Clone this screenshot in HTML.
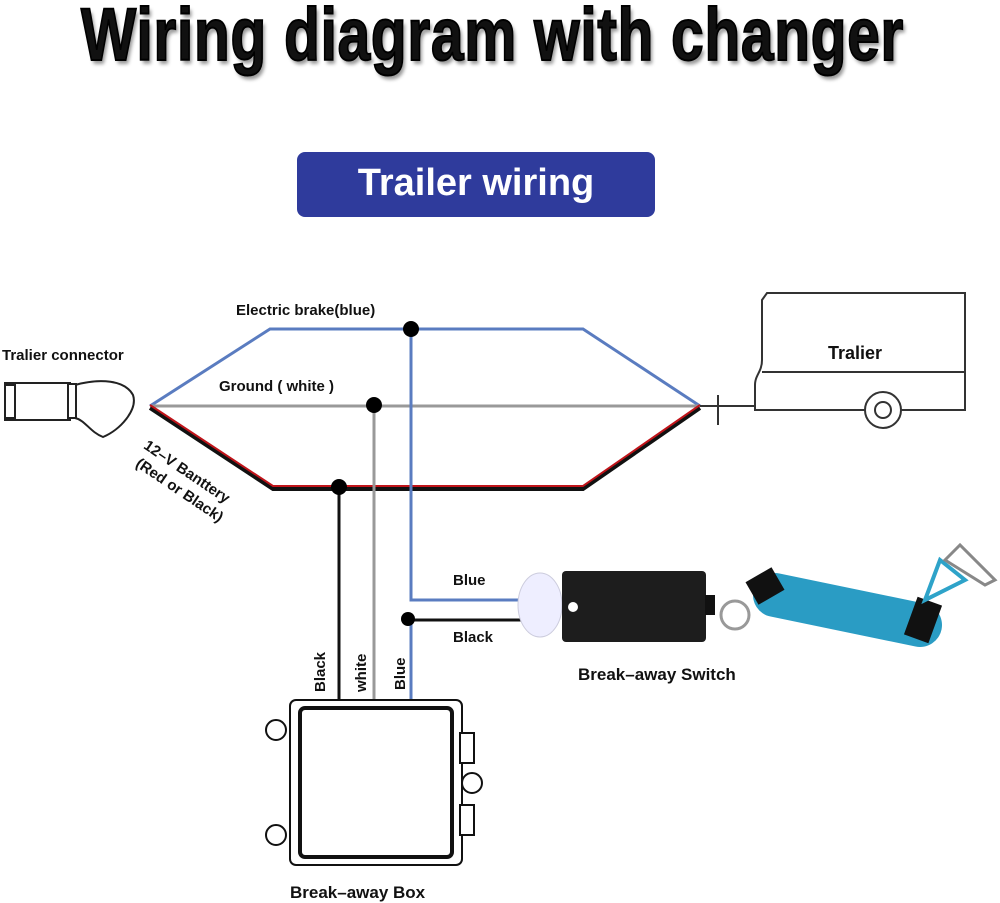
<!DOCTYPE html>
<html><head><meta charset="utf-8"><style>
body{margin:0;background:#fff;width:1000px;height:903px;overflow:hidden;position:relative;font-family:"Liberation Sans",sans-serif}
.t{position:absolute;font-weight:bold;color:#111;white-space:nowrap}
</style></head><body>
<div class="t" style="left:-24px;width:1000px;top:-8px;text-align:center;font-size:74px;transform:scaleX(0.79);letter-spacing:1px;text-shadow:3px 4px 4px #999;-webkit-text-stroke:2px #000">Wiring diagram with changer</div>
<div style="position:absolute;left:297px;top:152px;width:358px;height:65px;background:#2f3b9c;border-radius:8px"></div>
<div class="t" style="left:297px;width:358px;top:162px;text-align:center;color:#fff;font-size:38px">Trailer wiring</div>
<svg width="1000" height="903" style="position:absolute;left:0;top:0">
<g fill="none" stroke-width="3">
<polyline points="150,406 270,329 583,329 700,406" stroke="#5a7cc0"/>
<line x1="150" y1="406" x2="700" y2="406" stroke="#999"/>
<polyline points="150,408 273,489 583,489 700,408" stroke="#111" stroke-width="4"/>
<polyline points="150,405 273,486 583,486 700,405" stroke="#c0141a" stroke-width="2"/>
<polyline points="411,329 411,600 530,600" stroke="#5a7cc0"/>
<line x1="374" y1="405" x2="374" y2="703" stroke="#999"/>
<line x1="339" y1="487" x2="339" y2="703" stroke="#111"/>
<polyline points="530,620 408,620 408,617" stroke="#111"/>
<line x1="411" y1="620" x2="411" y2="703" stroke="#5a7cc0"/>
</g>
<g fill="#000"><circle cx="411" cy="329" r="8"/><circle cx="374" cy="405" r="8"/><circle cx="339" cy="487" r="8"/><circle cx="408" cy="619" r="7"/></g>
<g fill="#fff" stroke="#222" stroke-width="2">
<rect x="5" y="383" width="65" height="37"/>
<rect x="5" y="385" width="10" height="33"/>
<path d="M75,385 C100,378 125,380 133,395 C138,410 120,430 103,437 C90,432 85,420 75,418 Z"/>
<rect x="68" y="384" width="8" height="34"/>
</g>
<g fill="#fff" stroke="#333" stroke-width="2">
<path d="M767,293 H965 V410 H755 V385 C755,375 762,372 762,360 V300 Z"/>
<line x1="762" y1="372" x2="965" y2="372"/>
<circle cx="883" cy="410" r="18"/><circle cx="883" cy="410" r="8"/>
<line x1="700" y1="406" x2="755" y2="406"/>
<line x1="718" y1="395" x2="718" y2="425"/>
</g>
<ellipse cx="540" cy="605" rx="22" ry="32" fill="#eef" stroke="#ccd"/>
<rect x="562" y="571" width="144" height="71" rx="4" fill="#1d1d1d"/>
<circle cx="573" cy="607" r="5" fill="#fff"/>
<rect x="705" y="595" width="10" height="20" fill="#111"/>
<circle cx="735" cy="615" r="14" fill="none" stroke="#999" stroke-width="3"/>
<path d="M775,595 L920,625" stroke="#2a9cc4" stroke-width="44" stroke-linecap="round"/>
<rect x="750" y="573" width="30" height="26" fill="#111" transform="rotate(-30 765 586)"/>
<rect x="910" y="600" width="26" height="40" fill="#111" transform="rotate(20 923 620)"/>
<path d="M925,600 L940,560 L965,580 Z" fill="none" stroke="#2ea3c9" stroke-width="4"/>
<path d="M945,560 L960,545 L995,580 L985,585 Z" fill="none" stroke="#888" stroke-width="3"/>
<g fill="#fff" stroke="#111" stroke-width="2">
<rect x="290" y="700" width="172" height="165" rx="6"/>
<rect x="300" y="708" width="152" height="149" rx="5" stroke-width="4"/>
<circle cx="276" cy="730" r="10"/><circle cx="276" cy="835" r="10"/><circle cx="472" cy="783" r="10"/>
<rect x="460" y="733" width="14" height="30"/><rect x="460" y="805" width="14" height="30"/>
</g>
</svg>
<div class="t" style="left:236px;top:302px;font-size:15px">Electric brake(blue)</div>
<div class="t" style="left:2px;top:347px;font-size:15px">Tralier connector</div>
<div class="t" style="left:219px;top:378px;font-size:15px">Ground ( white )</div>
<div class="t" style="left:150px;top:437px;font-size:15px;transform:rotate(34deg);transform-origin:0 0">12–V Banttery</div>
<div class="t" style="left:142px;top:455px;font-size:15px;transform:rotate(34deg);transform-origin:0 0">(Red or Black)</div>
<div class="t" style="left:828px;top:343px;font-size:18px">Tralier</div>
<div class="t" style="left:453px;top:572px;font-size:15px">Blue</div>
<div class="t" style="left:453px;top:629px;font-size:15px">Black</div>
<div class="t" style="left:578px;top:665px;font-size:17px">Break–away Switch</div>
<div class="t" style="left:290px;top:883px;font-size:17px">Break–away Box</div>
<div class="t" style="left:312px;top:692px;font-size:15px;transform:rotate(-90deg);transform-origin:0 0">Black</div>
<div class="t" style="left:353px;top:692px;font-size:15px;transform:rotate(-90deg);transform-origin:0 0">white</div>
<div class="t" style="left:392px;top:690px;font-size:15px;transform:rotate(-90deg);transform-origin:0 0">Blue</div>
</body></html>
